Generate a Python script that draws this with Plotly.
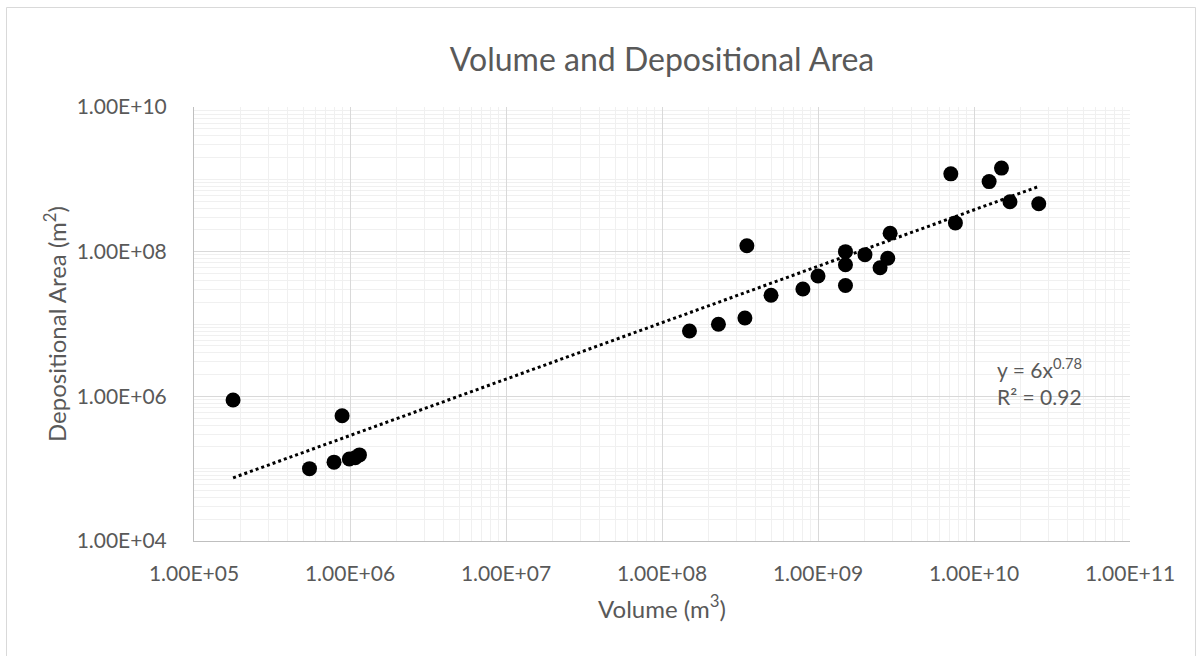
import numpy as np
import plotly.graph_objects as go

# Data
volume_m3 = [1.78e5, 5.5e5, 7.9e5, 8.9e5, 9.9e5, 1.08e6, 1.15e6,
             1.5e8, 2.3e8, 3.4e8, 3.5e8, 5.0e8, 8.0e8, 1.0e9,
             1.5e9, 1.5e9, 1.5e9, 2.0e9, 2.5e9, 2.8e9, 2.9e9,
             7.1e9, 7.6e9, 1.25e10, 1.5e10, 1.7e10, 2.6e10]
area_m2 = [8.9e5, 1.0e5, 1.23e5, 5.4e5, 1.36e5, 1.42e5, 1.55e5,
           8.0e6, 9.9e6, 1.21e7, 1.21e8, 2.5e7, 3.05e7, 4.6e7,
           1.0e8, 6.6e7, 3.4e7, 9.1e7, 6.0e7, 8.1e7, 1.8e8,
           1.19e9, 2.5e8, 9.3e8, 1.43e9, 4.9e8, 4.6e8]

# Power trendline shown on the chart: y = 6 x^0.78, R^2 = 0.92
trend_coef = 6.0
trend_exp = 0.78
trend_r2 = 0.92

x_tickvals = [1e5, 1e6, 1e7, 1e8, 1e9, 1e10, 1e11]
x_ticktext = ["1.00E+05", "1.00E+06", "1.00E+07", "1.00E+08", "1.00E+09", "1.00E+10", "1.00E+11"]
y_tickvals = [1e4, 1e6, 1e8, 1e10]
y_ticktext = ["1.00E+04", "1.00E+06", "1.00E+08", "1.00E+10"]

title_text = "Volume and Depositional Area"
x_title = "Volume (m<sup>3</sup>)"
y_title = "Depositional Area (m<sup>2</sup>)"

FONT = "Lato, 'Open Sans', sans-serif"
TXT = "#595959"
MAJOR = "#d9d9d9"
MINOR = "#f0f0f0"

tx = np.array([min(volume_m3), max(volume_m3)])
ty = trend_coef * tx ** trend_exp

fig = go.Figure()
fig.add_trace(go.Scatter(x=tx, y=ty, mode="lines",
                         line=dict(color="black", width=3, dash="dot"),
                         hoverinfo="skip", showlegend=False))
fig.add_trace(go.Scatter(x=volume_m3, y=area_m2, mode="markers",
                         marker=dict(color="black", size=15),
                         showlegend=False))

W, H = 1200, 656
L, R, T, B = 194, 70, 107, 115
pw, ph = W - L - R, H - T - B


def px2paper_x(px):
    return (px - L) / pw


def px2paper_y(py):
    return (H - B - py) / ph


fig.update_layout(
    width=W, height=H,
    margin=dict(l=L, r=R, t=T, b=B),
    paper_bgcolor="white", plot_bgcolor="white",
    font=dict(family=FONT, color=TXT, size=21),
    title=dict(text=title_text, x=0.5, xref="paper", xanchor="center",
               y=1 - 60 / H, yanchor="middle",
               font=dict(size=32, color=TXT, family=FONT)),
    xaxis=dict(type="log", range=[5, 11], tickvals=x_tickvals, ticktext=x_ticktext,
               showgrid=True, gridcolor=MAJOR, gridwidth=1,
               showline=True, linecolor="#bfbfbf", linewidth=1,
               ticks="", ticklabelstandoff=14, zeroline=False,
               tickfont=dict(size=21, color=TXT),
               minor=dict(dtick="D1", showgrid=True, gridcolor=MINOR, gridwidth=1, ticks=""),
               title=dict(text=x_title, standoff=16, font=dict(size=24, color=TXT))),
    yaxis=dict(type="log", range=[4, 10], tickvals=y_tickvals, ticktext=y_ticktext,
               showgrid=True, gridcolor=MAJOR, gridwidth=1,
               showline=True, linecolor="#bfbfbf", linewidth=1,
               ticks="", ticklabelstandoff=22, zeroline=False,
               tickfont=dict(size=21, color=TXT),
               minor=dict(dtick="D1", showgrid=True, gridcolor=MINOR, gridwidth=1, ticks=""),
               title=dict(text=y_title, standoff=3, font=dict(size=24, color=TXT))),
    annotations=[dict(text="y = 6x<sup>0.78</sup><br>R² = 0.92",
                      x=px2paper_x(995), y=px2paper_y(381), xref="paper", yref="paper",
                      xanchor="left", yanchor="middle", align="left", showarrow=False,
                      font=dict(size=21, color=TXT, family=FONT))],
    shapes=[dict(type="rect", xref="paper", yref="paper",
                 x0=px2paper_x(6.5), x1=px2paper_x(1195.5),
                 y0=px2paper_y(700), y1=px2paper_y(7.5),
                 line=dict(color="#d9d9d9", width=1), layer="below")],
)

fig.write_html("out.html")
